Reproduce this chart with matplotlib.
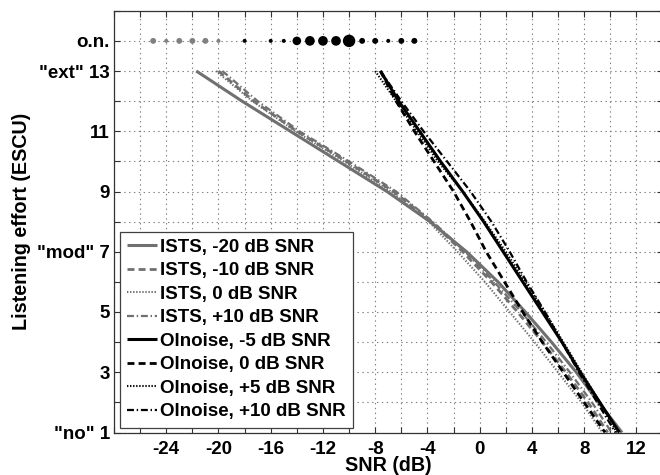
import matplotlib
matplotlib.use("Agg")
import matplotlib.pyplot as plt
from matplotlib.ticker import MultipleLocator, FixedLocator

plt.rcParams['font.family'] = ['Liberation Sans', 'DejaVu Sans']
plt.rcParams['font.weight'] = 'bold'
plt.rcParams['font.size'] = 13.5
plt.rcParams['lines.scale_dashes'] = False

# Listening-effort levels (ESCU), from "ext" down to "no"
escu = [13, 12, 11, 10, 9, 8, 7, 6, 5, 4, 3, 2, 1]

# SNR (dB) at each effort level, ISTS masker at four presentation levels
ists_m20 = [-21.7, -18.2, -14.5, -10.8, -7.1, -3.8, -1.0, 1.4, 3.5, 5.5, 7.4, 9.1, 10.9]
ists_m10 = [-20.0, -17.3, -14.0, -10.2, -6.6, -3.7, -1.3, 0.9, 2.9, 4.8, 6.6, 8.3, 9.8]
ists_0 = [-20.2, -17.4, -14.1, -10.4, -6.8, -3.9, -1.7, 0.4, 2.3, 4.2, 6.0, 7.8, 9.4]
ists_p10 = [-19.7, -17.0, -13.8, -10.0, -6.4, -3.6, -1.1, 1.1, 3.2, 5.1, 6.9, 8.6, 10.1]

# SNR (dB) at each effort level, Olnoise masker
olnoise_m5 = [-7.6, -6.2, -4.6, -3.0, -1.3, 0.3, 1.8, 3.3, 4.8, 6.3, 7.7, 9.2, 10.7]
olnoise_0 = [-7.6, -6.4, -5.0, -3.5, -2.0, -0.7, 0.5, 1.9, 3.3, 4.8, 6.4, 8.0, 9.6]
olnoise_p5 = [-8.0, -6.4, -4.8, -3.2, -1.3, 0.4, 2.0, 3.5, 5.0, 6.4, 7.8, 9.2, 10.5]
olnoise_p10 = [-7.6, -6.0, -4.3, -2.5, -0.7, 0.9, 2.3, 3.6, 5.0, 6.3, 7.6, 9.0, 10.4]

# "o.n." responses: SNR (dB) and number of responses
on_ists_snr = [-25, -24, -23, -22, -21, -20]
on_ists_count = [2, 1, 2, 2, 2, 1]
on_olnoise_snr = [-18, -16, -15, -14, -13, -12, -11, -10, -9, -8, -7, -6, -5]
on_olnoise_count = [1, 1, 1, 4, 5, 5, 5, 8, 2, 2, 1, 2, 2]

ON_LEVEL = 14

gray = '#707070'
series = [
    (ists_m20, 'ISTS, -20 dB SNR', gray, '-', 2.2),
    (ists_m10, 'ISTS, -10 dB SNR', gray, (0, (5, 3)), 2.0),
    (ists_0, 'ISTS, 0 dB SNR', gray, (0, (1, 1.2)), 1.5),
    (ists_p10, 'ISTS, +10 dB SNR', gray, (0, (5, 2, 1, 2)), 1.6),
    (olnoise_m5, 'Olnoise, -5 dB SNR', 'black', '-', 2.2),
    (olnoise_0, 'Olnoise, 0 dB SNR', 'black', (0, (5, 3)), 2.0),
    (olnoise_p5, 'Olnoise, +5 dB SNR', 'black', (0, (1, 1.2)), 1.5),
    (olnoise_p10, 'Olnoise, +10 dB SNR', 'black', (0, (5, 2, 1, 2)), 1.6),
]

fig = plt.figure(figsize=(6.6, 4.75), dpi=100)
ax = fig.add_axes([114 / 660, 1 - 432.5 / 475, 548.5 / 660, 421.75 / 475])

ax.set_xlim(-28, 14)
ax.set_ylim(1, 15)

ax.grid(True, which='both', linestyle=(0, (1, 2.5)), color='0.5', linewidth=0.8)
ax.set_axisbelow(True)

handles = []
for snr, label, color, ls, lw in series:
    h, = ax.plot(snr, escu, color=color, linestyle=ls, linewidth=lw,
                 label=label, solid_capstyle='butt', dash_capstyle='butt')
    handles.append(h)


def dot_size(counts):
    # marker diameter in px grows with the square root of the count
    return [((-0.6 + 4.6 * c ** 0.5) * 0.72) ** 2 for c in counts]


ax.scatter(on_ists_snr, [ON_LEVEL] * len(on_ists_snr), s=dot_size(on_ists_count),
           color='#808080', linewidths=0, zorder=3)
ax.scatter(on_olnoise_snr, [ON_LEVEL] * len(on_olnoise_snr), s=dot_size(on_olnoise_count),
           color='black', linewidths=0, zorder=3)

# ticks
ax.xaxis.set_major_locator(FixedLocator([-24, -20, -16, -12, -8, -4, 0, 4, 8, 12]))
ax.xaxis.set_minor_locator(MultipleLocator(2))
ax.set_xticklabels(['-24', '-20', '-16', '-12', '-8', '-4', '0', '4', '8', '12'])
ax.yaxis.set_major_locator(FixedLocator([1, 3, 5, 7, 9, 11, 13, 14]))
ax.yaxis.set_minor_locator(MultipleLocator(1))
ax.set_yticklabels(['"no" 1', '3', '5', '"mod" 7', '9', '11', '"ext" 13', 'o.n.'])
ax.tick_params(which='both', direction='in', top=True, right=True,
               length=4, width=0.8, color='0.2')
ax.tick_params(axis='x', which='major', pad=6)
ax.tick_params(axis='y', which='major', pad=3)
for sp in ax.spines.values():
    sp.set_color('0.2')
    sp.set_linewidth(0.9)

ax.set_xlabel('SNR (dB)', fontweight='bold', fontsize=14.2)
ax.xaxis.set_label_coords(0.5, -0.056)
ax.set_ylabel('Listening effort (ESCU)', fontweight='bold', fontsize=14.2)
ax.yaxis.set_label_coords(-0.151, 0.5)

leg = ax.legend(handles=handles, loc='lower left',
                bbox_to_anchor=(6 / 548.5, 5 / 421.75), borderaxespad=0,
                handlelength=1.6, handletextpad=0.15, labelspacing=0.34,
                borderpad=0.38, fancybox=False, framealpha=1,
                edgecolor='0.25', fontsize=13.5)
leg.get_frame().set_linewidth(0.9)

fig.savefig('out.png', dpi=100)
